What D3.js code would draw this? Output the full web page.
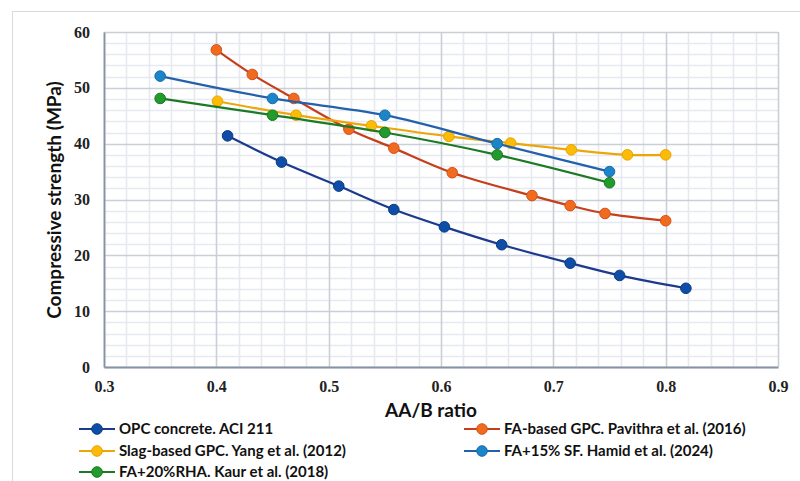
<!DOCTYPE html>
<html>
<head>
<meta charset="utf-8">
<script src="https://cdn.jsdelivr.net/npm/d3@7"></script>
<style>
  html, body { margin: 0; padding: 0; background: #fff; }
  svg { display: block; }
</style>
</head>
<body>
<svg id="chart" width="800" height="481"></svg>
<script>
// Compressive strength vs AA/B ratio for several mix types
const opcX   = [0.41, 0.458, 0.509, 0.558, 0.603, 0.654, 0.715, 0.759, 0.818];
const opcY   = [41.4, 36.7, 32.4, 28.2, 25.1, 21.9, 18.6, 16.4, 14.1];

const faX    = [0.40, 0.432, 0.469, 0.518, 0.558, 0.610, 0.681, 0.715, 0.746, 0.800];
const faY    = [56.8, 52.4, 48.1, 42.6, 39.2, 34.8, 30.7, 28.9, 27.5, 26.2];

const slagX  = [0.401, 0.471, 0.538, 0.607, 0.662, 0.716, 0.766, 0.800];
const slagY  = [47.6, 45.1, 43.2, 41.3, 40.1, 38.9, 38.0, 38.0];

const sfX    = [0.35, 0.45, 0.55, 0.65, 0.75];
const sfY    = [52.1, 48.1, 45.1, 40.0, 35.0];

const rhaX   = [0.35, 0.45, 0.55, 0.65, 0.75];
const rhaY   = [48.1, 45.1, 42.0, 38.0, 33.0];

const seriesNames = [
  "OPC concrete. ACI 211",
  "FA-based GPC. Pavithra et al. (2016)",
  "Slag-based GPC. Yang et al. (2012)",
  "FA+15% SF. Hamid et al. (2024)",
  "FA+20%RHA. Kaur et al. (2018)"
];

const xTicks = [0.3, 0.4, 0.5, 0.6, 0.7, 0.8, 0.9];
const yTicks = [0, 10, 20, 30, 40, 50, 60];

const series = [
  { name: seriesNames[0], xs: opcX,  ys: opcY,  line: "#1c3a8e", fill: "#0f4ea8", stroke: "#0a3a80" },
  { name: seriesNames[1], xs: faX,   ys: faY,   line: "#c63f1c", fill: "#f26a1e", stroke: "#d0521a" },
  { name: seriesNames[2], xs: slagX, ys: slagY, line: "#eda60a", fill: "#fbbb07", stroke: "#e8a400" },
  { name: seriesNames[3], xs: sfX,   ys: sfY,   line: "#2361ac", fill: "#1c84c8", stroke: "#166ba6" },
  { name: seriesNames[4], xs: rhaX,  ys: rhaY,  line: "#1d7a24", fill: "#229a2c", stroke: "#17781f" }
];

const svg = d3.select("#chart");

// outer chart frame
svg.append("rect")
  .attr("x", 12.5).attr("y", 11.5)
  .attr("width", 800).attr("height", 480)
  .attr("fill", "#fff").attr("stroke", "#d6dbe2").attr("stroke-width", 1);

const plot = { left: 104, right: 778, top: 32, bottom: 367 };

const x = d3.scaleLinear().domain([0.3, 0.9]).range([plot.left, plot.right]);
const y = d3.scaleLinear().domain([0, 60]).range([plot.bottom, plot.top]);

const grid = svg.append("g");

// minor grid: every 0.02 on x, every 2 on y
const minorX = d3.range(0, 31).map(i => 0.3 + i * 0.02).filter((v, i) => i % 5 !== 0);
const minorY = d3.range(0, 31).map(i => i * 2).filter((v, i) => i % 5 !== 0);

grid.selectAll(".mx").data(minorX).join("line")
  .attr("x1", d => Math.round(x(d)) + 0.5).attr("x2", d => Math.round(x(d)) + 0.5)
  .attr("y1", plot.top).attr("y2", plot.bottom)
  .attr("stroke", "#e6e9ef").attr("stroke-width", 1.6);
grid.selectAll(".my").data(minorY).join("line")
  .attr("y1", d => Math.round(y(d)) + 0.5).attr("y2", d => Math.round(y(d)) + 0.5)
  .attr("x1", plot.left).attr("x2", plot.right)
  .attr("stroke", "#e6e9ef").attr("stroke-width", 1.6);

// major grid
grid.selectAll(".Mx").data(xTicks).join("line")
  .attr("x1", d => Math.round(x(d)) + 0.5).attr("x2", d => Math.round(x(d)) + 0.5)
  .attr("y1", plot.top).attr("y2", plot.bottom)
  .attr("stroke", "#c9cfd8").attr("stroke-width", 1.6);
grid.selectAll(".My").data(yTicks).join("line")
  .attr("y1", d => Math.round(y(d)) + 0.5).attr("y2", d => Math.round(y(d)) + 0.5)
  .attr("x1", plot.left).attr("x2", plot.right)
  .attr("stroke", "#c9cfd8").attr("stroke-width", 1.6);

// axes
const xAxis = d3.axisBottom(x).tickValues(xTicks).tickSize(0).tickPadding(14)
  .tickFormat(d3.format(".1f"));
const yAxis = d3.axisLeft(y).tickValues(yTicks).tickSize(0).tickPadding(14);

const gx = svg.append("g").attr("transform", `translate(0,${plot.bottom})`).call(xAxis);
const gy = svg.append("g").attr("transform", `translate(${plot.left},0)`).call(yAxis);

[gx, gy].forEach(g => {
  g.select(".domain").attr("stroke", "#8793a4").attr("stroke-width", 1.8);
  g.selectAll("text")
    .attr("font-family", "'Liberation Serif', 'DejaVu Serif', serif")
    .attr("font-weight", "bold")
    .attr("font-size", 16)
    .attr("fill", "#222");
});

// axis titles
svg.append("text")
  .attr("x", 431).attr("y", 417)
  .attr("text-anchor", "middle")
  .attr("font-family", "Lato, 'Open Sans', sans-serif")
  .attr("font-weight", "bold").attr("font-size", 19)
  .attr("fill", "#111")
  .text("AA/B ratio");

svg.append("text")
  .attr("transform", "translate(61,200) rotate(-90)")
  .attr("text-anchor", "middle")
  .attr("font-family", "Lato, 'Open Sans', sans-serif")
  .attr("font-weight", "bold").attr("font-size", 19)
  .attr("fill", "#111")
  .text("Compressive strength (MPa)");

// series lines and markers
const lineGen = d3.line()
  .x(d => x(d[0])).y(d => y(d[1]))
  .curve(d3.curveCatmullRom.alpha(0.5));

series.forEach(s => {
  const pts = s.xs.map((v, i) => [v, s.ys[i]]);
  svg.append("path")
    .datum(pts)
    .attr("d", lineGen)
    .attr("fill", "none")
    .attr("stroke", s.line)
    .attr("stroke-width", 2.2);
  svg.append("g").selectAll("circle").data(pts).join("circle")
    .attr("cx", d => x(d[0])).attr("cy", d => y(d[1]))
    .attr("r", 5.3)
    .attr("fill", s.fill)
    .attr("stroke", s.stroke).attr("stroke-width", 1);
});

// legend: two columns
const legendPos = [
  { x: 79, y: 429 },
  { x: 464, y: 429 },
  { x: 79, y: 451 },
  { x: 464, y: 451 },
  { x: 79, y: 472 }
];

series.forEach((s, i) => {
  const p = legendPos[i];
  const g = svg.append("g").attr("transform", `translate(${p.x},${p.y})`);
  g.append("line")
    .attr("x1", 0).attr("x2", 36).attr("y1", 0).attr("y2", 0)
    .attr("stroke", s.line).attr("stroke-width", 2.2);
  g.append("circle")
    .attr("cx", 18).attr("cy", 0).attr("r", 5.3)
    .attr("fill", s.fill).attr("stroke", s.stroke).attr("stroke-width", 1);
  g.append("text")
    .attr("x", 40).attr("y", 0).attr("dy", "0.36em")
    .attr("font-family", "Lato, 'Open Sans', sans-serif")
    .attr("font-weight", "bold").attr("font-size", 15)
    .attr("fill", "#111")
    .text(s.name);
});
</script>
</body>
</html>
